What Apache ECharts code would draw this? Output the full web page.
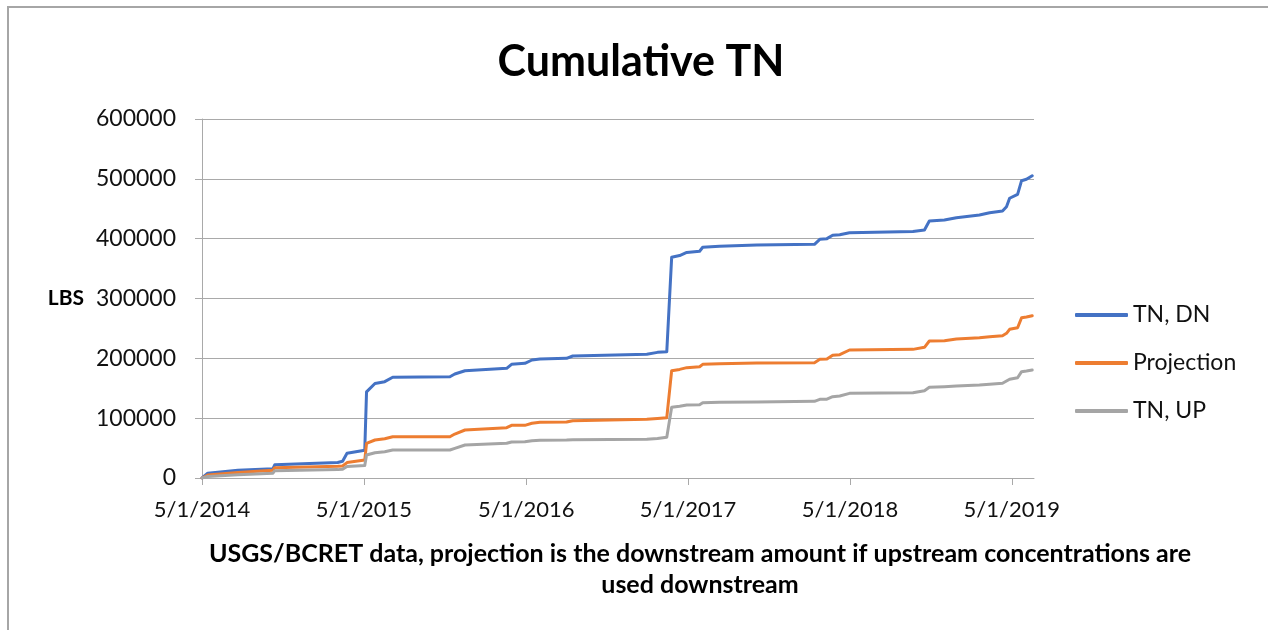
<!DOCTYPE html>
<html style="height: 100%">
<head>
    <meta charset="utf-8">
    <title>Cumulative TN</title>
    <script src="https://cdn.jsdelivr.net/npm/echarts@6/dist/echarts.min.js"></script>
</head>
<body style="height: 100%; margin: 0; background: #fff">
<div id="container" style="width:1268px;height:630px"></div>
<script type="text/javascript">
// values
var dates = [
    '2014-05-01', '2014-05-14', '2014-07-21', '2014-10-08', '2014-10-12',
    '2015-03-03', '2015-03-14', '2015-03-24', '2015-05-03', '2015-05-07',
    '2015-05-26', '2015-06-17', '2015-07-05', '2015-11-11', '2015-11-22',
    '2015-12-15', '2016-03-18', '2016-03-29', '2016-04-28', '2016-05-14',
    '2016-06-01', '2016-07-31', '2016-08-14', '2017-01-28', '2017-02-21',
    '2017-03-14', '2017-03-25', '2017-04-12', '2017-04-28', '2017-05-27',
    '2017-06-03', '2017-07-11', '2017-10-03', '2018-02-10', '2018-02-22',
    '2018-03-10', '2018-03-23', '2018-04-08', '2018-04-30', '2018-09-20',
    '2018-10-16', '2018-10-27', '2018-11-30', '2018-12-27', '2019-02-17',
    '2019-03-12', '2019-04-10', '2019-04-19', '2019-04-26', '2019-05-14',
    '2019-05-23', '2019-06-03', '2019-06-16'
];
var tnDn = [
    0, 8000, 13000, 15500, 22000,
    26000, 28000, 41500, 46500, 144000,
    158000, 161000, 168300, 169300, 173800,
    179300, 183300, 190000, 191700, 197200,
    198900, 200000, 203900, 206700, 210000,
    211100, 368800, 371800, 376900, 378900,
    385600, 387400, 389400, 390600, 398900,
    400000, 405600, 406600, 410000, 412000,
    414500, 429500, 431200, 435000, 439500,
    443400, 446200, 453400, 467500, 474100,
    496900, 499200, 505200
];
var projection = [
    0, 5000, 9000, 13000, 17200,
    19500, 20000, 25800, 30000, 58000,
    63500, 65700, 69000, 69000, 73500,
    80200, 84100, 88000, 88000, 91400,
    93000, 93500, 95800, 98100, 99500,
    100800, 179300, 181500, 184400, 186000,
    190000, 191000, 192000, 192700, 198400,
    198900, 205000, 206100, 213900, 215000,
    218400, 229000, 229500, 232300, 234500,
    236000, 237800, 241800, 248500, 251200,
    267900, 269000, 271200
];
var tnUp = [
    0, 2500, 5500, 7900, 12200,
    14000, 14800, 19200, 20800, 38400,
    42300, 44000, 46800, 46800, 49600,
    55200, 58000, 60200, 60700, 62300,
    63000, 63500, 64000, 64700, 66000,
    68000, 118200, 120000, 122000, 122500,
    125800, 126500, 127200, 128200, 131500,
    131800, 135900, 137000, 141500, 142600,
    145900, 151600, 152600, 153800, 155500,
    156800, 158300, 162100, 165000, 167600,
    177700, 178800, 180500
];
var tickDates = ['2014-05-01', '2015-05-01', '2016-05-01', '2017-05-01', '2018-05-01', '2019-05-01'];
var seriesNames = ['TN, DN', 'Projection', 'TN, UP'];
var colors = ['#4472C4', '#ED7D31', '#A5A5A5'];

function toTime(s) {
    return new Date(s + 'T00:00:00').getTime();
}
function pairs(vals) {
    var out = [];
    for (var i = 0; i < dates.length; i++) {
        out.push([toTime(dates[i]), vals[i]]);
    }
    return out;
}

var font = 'Lato, "Noto Sans", sans-serif';
var gridColor = '#a9a9a9';
var tickTimes = tickDates.map(toTime);

var myChart = echarts.init(document.getElementById('container'));
var option = {
    animation: false,
    color: colors,
    title: [{
        text: 'Cumulative TN',
        left: 636,
        top: 36,
        textAlign: 'center',
        textStyle: {fontFamily: font, fontSize: 43, fontWeight: 'bold', color: '#000'}
    }, {
        text: 'USGS/BCRET data, projection is the downstream amount if upstream concentrations are\nused downstream',
        left: 695,
        top: 533,
        textAlign: 'center',
        textStyle: {fontFamily: font, fontSize: 25, fontWeight: 'bold', color: '#000', lineHeight: 31}
    }],
    legend: {
        orient: 'vertical',
        left: 1070,
        top: 298,
        itemWidth: 53,
        itemHeight: 4,
        itemGap: 24,
        icon: 'roundRect',
        textStyle: {fontFamily: font, fontSize: 23, color: '#111', lineHeight: 24},
        data: seriesNames
    },
    graphic: [{
        type: 'rect',
        shape: {x: 8, y: 7, width: 1300, height: 700},
        style: {fill: 'none', stroke: '#a6a6a6', lineWidth: 2},
        silent: true
    }],
    grid: {left: 202, right: 234, top: 119, bottom: 152},
    xAxis: {
        type: 'value',
        min: toTime('2014-05-01'),
        max: toTime('2019-06-20'),
        splitLine: {show: false},
        axisLine: {lineStyle: {color: gridColor, width: 1}},
        axisTick: {show: true, length: 7, lineStyle: {color: gridColor}, customValues: tickTimes},
        axisLabel: {
            customValues: tickTimes,
            margin: 21,
            fontFamily: font,
            fontSize: 22,
            color: '#111',
            formatter: function (val) {
                var d = new Date(val);
                return (d.getMonth() + 1) + '/' + d.getDate() + '/' + d.getFullYear();
            }
        }
    },
    yAxis: {
        type: 'value',
        min: 0,
        max: 600000,
        interval: 100000,
        name: 'LBS',
        nameLocation: 'middle',
        nameRotate: 0,
        nameGap: 118,
        nameTextStyle: {fontFamily: font, fontSize: 21, fontWeight: 'bold', color: '#000', align: 'right', verticalAlign: 'middle'},
        axisLine: {show: true, lineStyle: {color: gridColor, width: 1}},
        axisTick: {show: true, length: 7, lineStyle: {color: gridColor}},
        splitLine: {lineStyle: {color: gridColor, width: 1}},
        axisLabel: {
            margin: 26, fontFamily: font, fontSize: 23, color: '#111',
            formatter: function (v) { return String(v); }
        }
    },
    series: [
        {name: seriesNames[0], type: 'line', showSymbol: false, data: pairs(tnDn),
            lineStyle: {width: 3, cap: 'round', join: 'round'}},
        {name: seriesNames[1], type: 'line', showSymbol: false, data: pairs(projection),
            lineStyle: {width: 3, cap: 'round', join: 'round'}},
        {name: seriesNames[2], type: 'line', showSymbol: false, data: pairs(tnUp),
            lineStyle: {width: 3, cap: 'round', join: 'round'}}
    ]
};
myChart.setOption(option);
</script>
</body>
</html>
